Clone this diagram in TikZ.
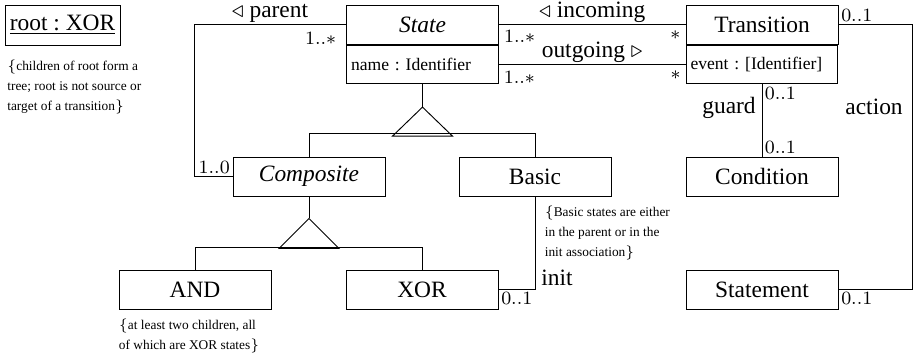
\documentclass[tikz,border=0pt]{standalone}
\usepackage{fontspec}
\setmainfont{Liberation Serif}
\usepackage{amssymb}
\usetikzlibrary{shapes,arrows,positioning,calc}
\frenchspacing

\begin{document}
\begin{tikzpicture}[x=0.015cm, y=-0.015cm, node distance=0pt, auto]
  \tikzstyle{cls} = [rectangle, draw, minimum width=2.28cm, minimum height=0.585cm, inner sep=1pt, font=\fontsize{10}{12}\selectfont]
  \tikzstyle{attr} = [rectangle, draw, minimum height=0.57cm, text width=61pt, inner xsep=1.8pt, align=left, font=\fontsize{7.5}{9}\selectfont]
  \tikzstyle{mult} = [inner sep=1pt, font=\footnotesize]
  \tikzstyle{role} = [inner xsep=2.5pt, inner ysep=0.5pt, font=\fontsize{10}{12}\selectfont]
  \tikzstyle{note} = [inner sep=0pt, align=left, font=\fontsize{5.7}{8.5}\selectfont]

  \useasboundingbox (0,0) rectangle (915,355);

  % classes
  \node[cls, minimum width=1.725cm, minimum height=0.6cm] (root) at (62.5,25) {\underline{root : XOR}};
  \node[note, below right=6pt and 1pt of root.south west] (rootnote) {$\{$children of root form a\\tree; root is not source or\\target of a transition$\}$};

  \node[cls, font=\fontsize{10}{12}\selectfont\itshape] (state) at (422.5,24.5) {State};
  \node[attr, below=0.3pt of state] (stateattr) {name : Identifier};
  \node[cls] (trans) at (762,24.5) {Transition};
  \node[attr, below=0.3pt of trans] (transattr) {event : [Identifier]};

  \node[cls, font=\fontsize{10}{12}\selectfont\itshape] (composite) at (309,176.5) {Composite};
  \node[cls] (basic) at (535,176.5) {Basic};
  \node[cls] (and) at (195,289.5) {AND};
  \node[cls] (xor) at (422,289.5) {XOR};
  \node[cls] (cond) at (762,176.5) {Condition};
  \node[cls] (stmt) at (762,289.5) {Statement};

  \node[note, below right=4pt and 4pt of basic.south] (basicnote) {$\{$Basic states are either\\in the parent or in the\\init association$\}$};
  \node[note, below right=4pt and 0pt of and.south west] (andnote) {$\{$at least two children, all\\of which are XOR states$\}$};

  % generalisations
  \draw (stateattr.south) -- ++(0,23) coordinate (gen1);
  \draw (gen1) -- ++(-30,29) -- ++(60,0) -- cycle;
  \draw (composite.north) -- ++(0,-23) -| (basic.north);
  \draw (composite.south) -- ++(0,22) coordinate (gen2);
  \draw (gen2) -- ++(-30,30) -- ++(60,0) -- cycle;
  \draw (and.north) -- ++(0,-22) -| (xor.north);

  % associations
  \draw (state.west) -- node[role, above] (parentlbl) {$\triangleleft$ parent} ++(-152,0) |- (composite.west);
  \node[mult, anchor=north east] (m1) at ([xshift=-3pt,yshift=-2pt]state.west) {$1..{*}$};
  \node[mult, anchor=south east] (m2) at (composite.west) {$1..0$};

  \draw (state.east) -- node[role, above] (inlbl) {$\triangleleft$ incoming} (trans.west);
  \node[mult, anchor=north west] (m3) at ([xshift=1pt,yshift=-1.5pt]state.east) {$1..{*}$};
  \node[mult, anchor=north east] (m4) at ([xshift=-1pt,yshift=-1.5pt]trans.west) {${*}$};
  \draw (stateattr.east) -- node[role, above] (outlbl) {outgoing $\triangleright$} (transattr.west);
  \node[mult, anchor=north west] (m5) at ([xshift=1pt,yshift=-1.5pt]stateattr.east) {$1..{*}$};
  \node[mult, anchor=north east] (m6) at ([xshift=-1pt,yshift=-1.5pt]transattr.west) {${*}$};

  \draw (xor.east) -| node[role, pos=0.56, right] (initlbl) {init} (basic.south);
  \node[mult, anchor=north west] (m7) at (xor.east) {$0..1$};

  \draw (transattr.south) -- node[role, pos=0.33, left] (guardlbl) {guard} (cond.north);
  \node[mult, anchor=north west] (m8) at (transattr.south) {$0..1$};
  \node[mult, anchor=south west] (m9) at (cond.north) {$0..1$};

  \draw (trans.east) -- ++(74,0) |- (stmt.east);
  \node[role, anchor=east] (actlbl) at (909,107) {action};
  \node[mult, anchor=south west] (m10) at (trans.east) {$0..1$};
  \node[mult, anchor=north west] (m11) at (stmt.east) {$0..1$};
\end{tikzpicture}
\end{document}
